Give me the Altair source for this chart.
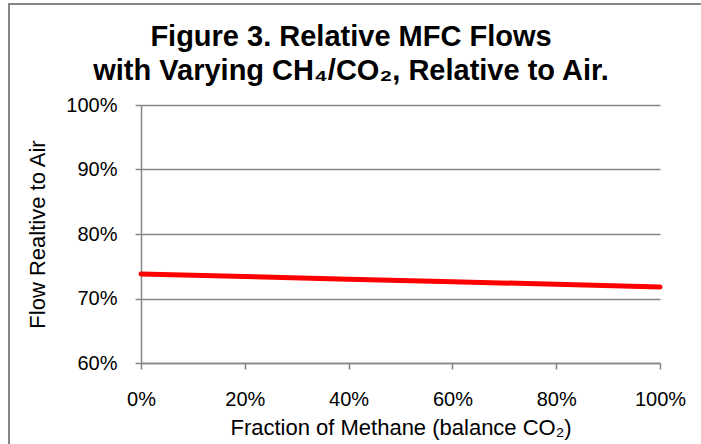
import altair as alt
import pandas as pd

fraction_methane = [0.0, 0.2, 0.4, 0.6, 0.8, 1.0]
flow_relative = [0.738, 0.734, 0.730, 0.726, 0.722, 0.718]
title_lines = ["Figure 3. Relative MFC Flows", "with Varying CH₄/CO₂, Relative to Air."]

df = pd.DataFrame({"x": fraction_methane, "y": flow_relative})

W, H = 519, 258
gray = "#868686"
font = "Liberation Sans"

border = alt.Chart(pd.DataFrame({"a": [0]})).mark_rect(
    fill=None, stroke=gray, strokeWidth=2
).encode(
    x=alt.value(-132), x2=alt.value(W + 60),
    y=alt.value(-101), y2=alt.value(H + 100)
)

t1 = alt.Chart(pd.DataFrame({"t": [title_lines[0]]})).mark_text(
    font=font, fontSize=29, fontWeight="bold", color="#000000",
    align="center", baseline="alphabetic"
).encode(text="t:N", x=alt.value(210), y=alt.value(-59))

t2 = alt.Chart(pd.DataFrame({"t": [title_lines[1]]})).mark_text(
    font=font, fontSize=29, fontWeight="bold", color="#000000",
    align="center", baseline="alphabetic"
).encode(text="t:N", x=alt.value(210), y=alt.value(-25))

line = alt.Chart(df).mark_line(
    color="#FF0000", strokeWidth=5, strokeCap="round"
).encode(
    x=alt.X("x:Q", scale=alt.Scale(domain=[0, 1], nice=False),
            axis=alt.Axis(format=".0%", values=[0, 0.2, 0.4, 0.6, 0.8, 1.0],
                          grid=False, title="Fraction of Methane (balance CO₂)",
                          labelPadding=20, titlePadding=8, tickSize=6,
                          labelFlush=False, labelOverlap=False)),
    y=alt.Y("y:Q", scale=alt.Scale(domain=[0.6, 1.0], nice=False),
            axis=alt.Axis(format=".0%", values=[0.6, 0.7, 0.8, 0.9, 1.0],
                          grid=True, title="Flow Realtive to Air",
                          labelPadding=18, titlePadding=16, tickSize=6,
                          labelFlush=False, labelOverlap=False)),
)

chart = alt.layer(border, t1, t2, line).properties(
    width=W, height=H,
    autosize=alt.AutoSizeParams(type="none"),
    padding={"left": 141, "top": 105, "right": 41, "bottom": 81},
).configure(background="white").configure_view(stroke=None).configure_axis(
    labelFont=font, titleFont=font, labelFontSize=20, titleFontSize=22,
    labelColor="#000000", titleColor="#000000", titleFontWeight="normal",
    domainColor=gray, tickColor=gray, gridColor=gray, domainWidth=1.5,
    gridWidth=1.5, tickWidth=1.5
)

chart.save("out.html", embed_options={"renderer": "svg", "actions": False})
